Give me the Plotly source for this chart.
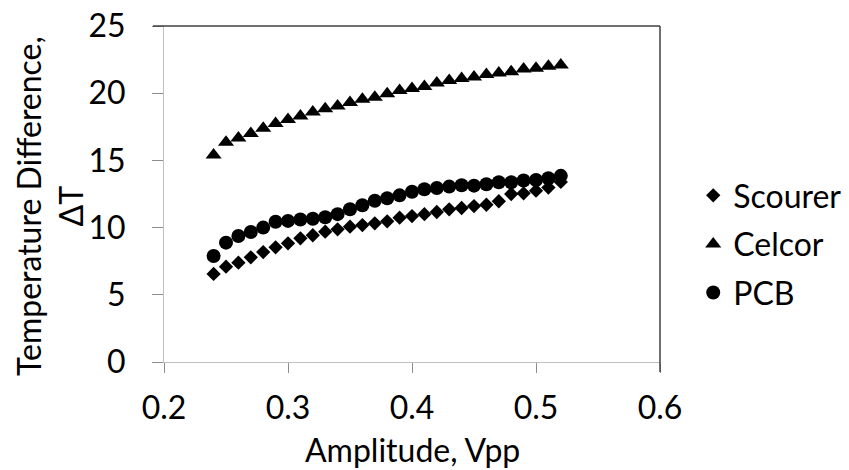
import plotly.graph_objects as go

amplitude = [0.24, 0.25, 0.26, 0.27, 0.28, 0.29, 0.30, 0.31, 0.32, 0.33,
             0.34, 0.35, 0.36, 0.37, 0.38, 0.39, 0.40, 0.41, 0.42, 0.43,
             0.44, 0.45, 0.46, 0.47, 0.48, 0.49, 0.50, 0.51, 0.52]

scourer = [6.55, 7.09, 7.39, 7.79, 8.18, 8.53, 8.83, 9.20, 9.43, 9.70,
           9.87, 10.07, 10.19, 10.32, 10.47, 10.74, 10.86, 11.00, 11.16, 11.36,
           11.46, 11.60, 11.70, 11.96, 12.50, 12.55, 12.75, 12.98, 13.40]

celcor = [15.40, 16.35, 16.67, 17.00, 17.40, 17.75, 18.05, 18.30, 18.60, 18.85,
          19.05, 19.30, 19.55, 19.70, 19.95, 20.20, 20.35, 20.50, 20.75, 20.95,
          21.10, 21.20, 21.40, 21.50, 21.60, 21.80, 21.85, 22.00, 22.10]

pcb = [7.89, 8.88, 9.38, 9.67, 10.00, 10.44, 10.50, 10.60, 10.66, 10.77,
       11.00, 11.36, 11.66, 12.00, 12.18, 12.40, 12.67, 12.85, 12.95, 13.05,
       13.15, 13.12, 13.22, 13.37, 13.37, 13.50, 13.54, 13.67, 13.85]

series_names = ["Scourer", "Celcor", "PCB"]
x_ticks = [0.2, 0.3, 0.4, 0.5, 0.6]
y_ticks = [0, 5, 10, 15, 20, 25]

FONT = "Lato"
FS = 32

fig = go.Figure()
fig.add_trace(go.Scatter(x=amplitude, y=scourer, mode="markers", name=series_names[0],
                         legendgroup="a",
                         marker=dict(symbol="diamond", size=11, color="black")))
fig.add_trace(go.Scatter(x=amplitude, y=celcor, mode="markers", name=series_names[1],
                         legendgroup="b",
                         marker=dict(symbol="triangle-up", size=14, color="black")))
fig.add_trace(go.Scatter(x=amplitude, y=pcb, mode="markers", name=series_names[2],
                         legendgroup="c",
                         marker=dict(symbol="circle", size=14, color="black")))

fig.update_layout(
    width=849, height=470,
    margin=dict(l=164, r=189, t=26, b=108, autoexpand=False),
    paper_bgcolor="white", plot_bgcolor="white",
    font=dict(family=FONT, size=FS, color="black"),
    showlegend=True,
    legend=dict(x=1.067, xanchor="left", y=0.351, yanchor="middle",
                font=dict(family=FONT, size=FS, color="black"),
                tracegroupgap=4, bgcolor="rgba(0,0,0,0)"),
    xaxis=dict(range=[0.2, 0.6], tickvals=x_ticks, tickformat=".1f",
               automargin=False,
               showgrid=False, zeroline=False, showline=True,
               linecolor="#BFBFBF", linewidth=1,
               ticks="outside", ticklen=10, tickcolor="#8C8C8C",
               ticklabelstandoff=8,
               tickfont=dict(family=FONT, size=FS, color="black")),
    yaxis=dict(range=[0, 25], tickvals=y_ticks,
               automargin=False,
               showgrid=False, zeroline=False, showline=True,
               linecolor="#BFBFBF", linewidth=1,
               ticks="outside", ticklen=11, tickcolor="#8C8C8C",
               ticklabelstandoff=20,
               tickfont=dict(family=FONT, size=FS, color="black")),
    annotations=[
        dict(text="Temperature Difference,<br>ΔT", textangle=-90,
             xref="paper", yref="paper", x=(49 - 164) / 496,
             y=(362 - 206) / 336, xanchor="center", yanchor="middle",
             showarrow=False,
             font=dict(family=FONT, size=FS, color="black")),
        dict(text="Amplitude, Vpp",
             xref="paper", yref="paper", x=0.5,
             y=(362 - 449) / 336, xanchor="center", yanchor="middle",
             showarrow=False,
             font=dict(family=FONT, size=FS, color="black")),
    ],
    shapes=[
        dict(type="line", xref="paper", yref="paper", x0=-11 / 496, x1=1,
             y0=1, y1=1, line=dict(color="#404040", width=1.5)),
        dict(type="line", xref="paper", yref="paper", x0=1, x1=1,
             y0=-10 / 336, y1=1, line=dict(color="#404040", width=1.5)),
    ],
)

fig.write_html("out.html", config={"displayModeBar": False},
               post_script="document.body.style.margin='0';document.body.style.overflow='hidden';")
